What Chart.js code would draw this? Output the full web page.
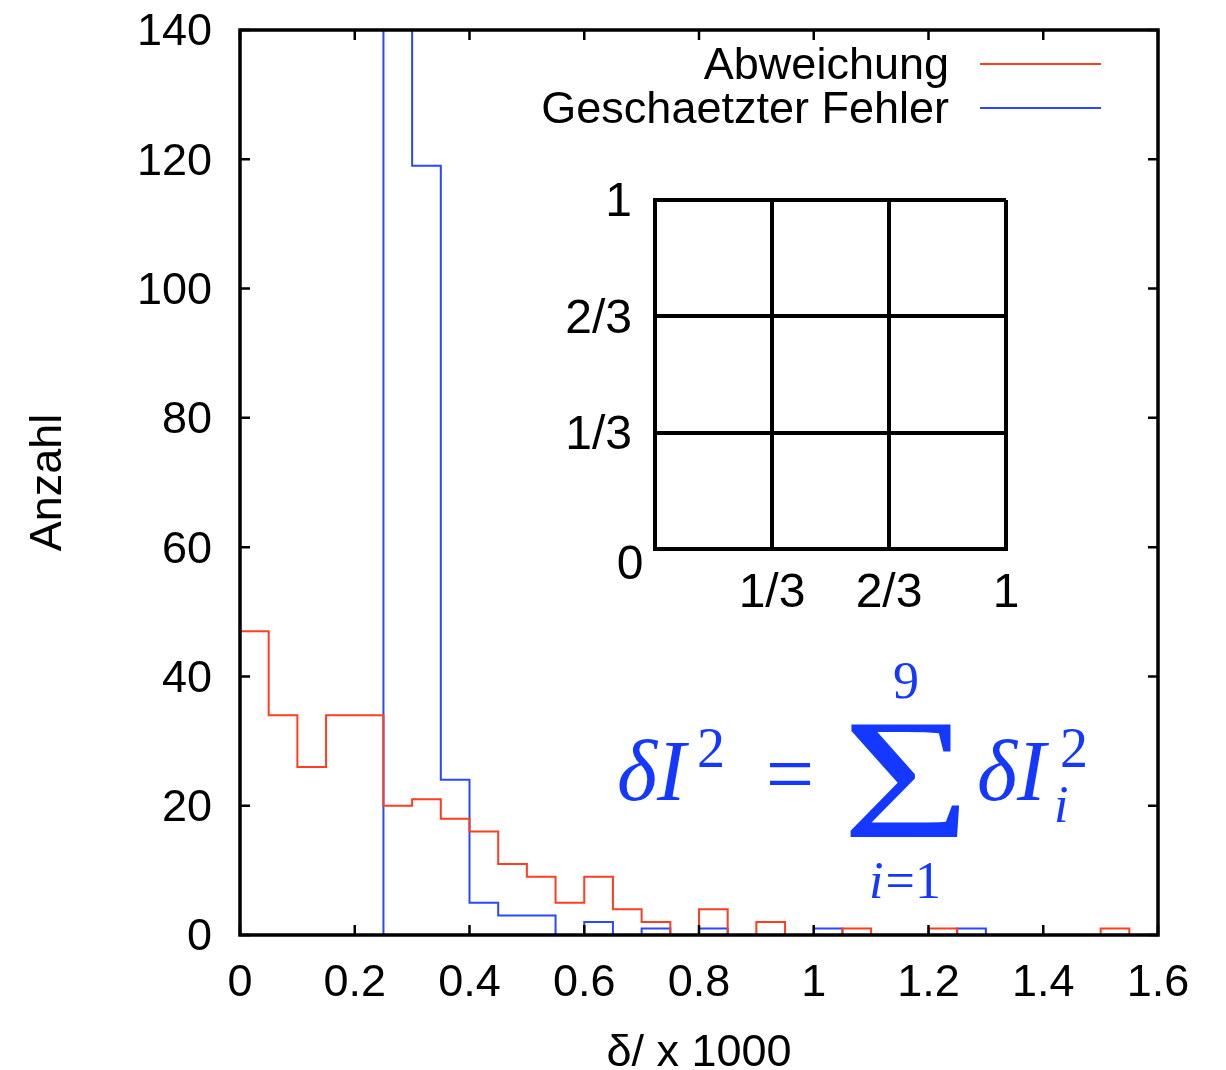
<!DOCTYPE html>
<html>
<head>
<meta charset="utf-8">
<title>Abweichung / Geschaetzter Fehler</title>
<script src="https://cdn.jsdelivr.net/npm/chart.js@4.4.1/dist/chart.umd.min.js"></script>
<style>
  html, body { margin: 0; padding: 0; background: #fff; }
  #wrap { position: relative; width: 1226px; height: 1070px; }
  #main { position: absolute; left: 0; top: 0; }
  #inset { position: absolute; left: 540px; top: 170px; }
</style>
</head>
<body>
<div id="wrap">
  <canvas id="main" width="1226" height="1070"></canvas>
  <canvas id="inset" width="490" height="450"></canvas>
</div>
<script>
// histogram bin edges (bin width 0.05), last entry closes the final bin
const binEdges = [0, 0.05, 0.1, 0.15, 0.2, 0.25, 0.3, 0.35, 0.4, 0.45, 0.5, 0.55,
  0.6, 0.65, 0.7, 0.75, 0.8, 0.85, 0.9, 0.95, 1.0, 1.05, 1.1, 1.15, 1.2, 1.25,
  1.3, 1.35, 1.4, 1.45, 1.5, 1.55, 1.6];

// counts per bin
const abweichung = [47, 34, 26, 34, 34, 20, 21, 18, 16, 11, 9, 5, 9, 4, 2, 0,
  4, 0, 2, 0, 0, 1, 0, 0, 1, 0, 0, 0, 0, 0, 1, 0];
const geschaetzterFehler = [0, 0, 0, 0, 0, 210, 119, 24, 5, 3, 3, 0, 2, 0, 1, 0,
  1, 0, 0, 0, 1, 0, 0, 0, 0, 1, 0, 0, 0, 0, 0, 0];

const xRange = [0, 1.6];
const yRange = [0, 140];
const xStep = 0.2;
const yStep = 20;

// inset: 3x3 subdivision of the unit square
const insetTicks = [0, 1/3, 2/3, 1];
const insetLabels = ['0', '1/3', '2/3', '1'];

const SANS = '"Liberation Sans", Arial, Helvetica, sans-serif';
const SERIF = '"Liberation Serif", "Times New Roman", serif';
const RED = '#ff3d20';
const BLUE = '#2a48ff';
const MATH_BLUE = '#1438ff';

// one point per left bin edge; the closing edge repeats the last count
function toSteps(counts) {
  return binEdges.map((x, i) => ({ x: x, y: counts[Math.min(i, counts.length - 1)] }));
}

// gnuplot-like frame with ticks pointing inwards on all four sides
const framePlugin = {
  id: 'frame',
  afterDatasetsDraw(chart) {
    const { ctx, chartArea: a, scales } = chart;
    const len = 10;
    ctx.save();
    ctx.strokeStyle = '#000';
    ctx.lineWidth = 2.5;
    ctx.beginPath();
    scales.x.ticks.forEach(t => {
      const px = scales.x.getPixelForValue(t.value);
      ctx.moveTo(px, a.bottom); ctx.lineTo(px, a.bottom - len);
      ctx.moveTo(px, a.top); ctx.lineTo(px, a.top + len);
    });
    scales.y.ticks.forEach(t => {
      const py = scales.y.getPixelForValue(t.value);
      ctx.moveTo(a.left, py); ctx.lineTo(a.left + len, py);
      ctx.moveTo(a.right, py); ctx.lineTo(a.right - len, py);
    });
    ctx.stroke();
    ctx.lineWidth = 3.5;
    ctx.strokeRect(a.left, a.top, a.right - a.left, a.bottom - a.top);
    ctx.restore();
  }
};

// key in the upper right corner: text first, sample line after it
const keyPlugin = {
  id: 'key',
  afterDraw(chart) {
    const { ctx, chartArea: a } = chart;
    ctx.save();
    ctx.font = '45px ' + SANS;
    ctx.textAlign = 'right';
    ctx.textBaseline = 'middle';
    chart.data.datasets.forEach((ds, i) => {
      const y = a.top + 34 + i * 44;
      ctx.fillStyle = '#000';
      ctx.fillText(ds.label, a.right - 209, y + 3);
      ctx.strokeStyle = ds.borderColor;
      ctx.lineWidth = 2;
      ctx.beginPath();
      ctx.moveTo(a.right - 178, y);
      ctx.lineTo(a.right - 57, y);
      ctx.stroke();
    });
    ctx.restore();
  }
};

// error propagation formula under the inset
const formulaPlugin = {
  id: 'formula',
  afterDraw(chart) {
    const ctx = chart.ctx;
    const it = s => 'italic ' + s + 'px ' + SERIF;
    const up = s => s + 'px ' + SERIF;
    ctx.save();
    ctx.fillStyle = MATH_BLUE;
    ctx.textBaseline = 'alphabetic';

    ctx.textAlign = 'left';
    ctx.font = it(86);
    ctx.fillText('\u03B4I', 617, 800);
    ctx.font = up(56);
    ctx.fillText('2', 697, 767);

    ctx.textAlign = 'center';
    ctx.font = up(86);
    ctx.fillText('=', 790, 803);

    // big sigma, stretched a little sideways
    ctx.save();
    ctx.translate(906, 837);
    ctx.scale(1.28, 1);
    ctx.font = up(172);
    ctx.fillText('\u03A3', 0, 0);
    ctx.restore();

    ctx.font = up(52);
    ctx.fillText('9', 906, 698);

    // lower limit i=1
    ctx.textAlign = 'left';
    ctx.font = it(52);
    const wi = ctx.measureText('i').width;
    ctx.font = up(52);
    const wr = ctx.measureText('=1').width;
    const x0 = 904 - (wi + wr) / 2;
    ctx.font = it(52);
    ctx.fillText('i', x0, 898);
    ctx.font = up(52);
    ctx.fillText('=1', x0 + wi + 2, 898);

    ctx.font = it(86);
    ctx.fillText('\u03B4I', 977, 800);
    ctx.font = up(56);
    ctx.fillText('2', 1060, 767);
    ctx.font = it(52);
    ctx.fillText('i', 1054, 822);
    ctx.restore();
  }
};

new Chart(document.getElementById('main'), {
  type: 'line',
  data: {
    datasets: [
      {
        label: 'Abweichung',
        data: toSteps(abweichung),
        borderColor: RED,
        borderWidth: 2,
        stepped: true,
        pointRadius: 0,
        fill: false
      },
      {
        label: 'Geschaetzter Fehler',
        data: toSteps(geschaetzterFehler),
        borderColor: BLUE,
        borderWidth: 2,
        stepped: true,
        pointRadius: 0,
        fill: false
      }
    ]
  },
  options: {
    responsive: false,
    animation: false,
    layout: { padding: { top: 30, right: 68, left: 0, bottom: 0 } },
    plugins: {
      legend: { display: false },
      tooltip: { enabled: false }
    },
    scales: {
      x: {
        type: 'linear',
        min: xRange[0],
        max: xRange[1],
        afterFit: s => { s.height = 135; },
        grid: { display: false, drawTicks: false },
        border: { display: false },
        ticks: {
          stepSize: xStep,
          padding: 22,
          maxRotation: 0,
          color: '#000',
          font: { family: SANS, size: 45 },
          callback: v => String(+v.toFixed(1))
        },
        title: {
          display: true,
          text: '\u03B4/ x 1000',
          color: '#000',
          font: { family: SANS, size: 45, lineHeight: 0.75 },
          padding: 0
        }
      },
      y: {
        min: yRange[0],
        max: yRange[1],
        afterFit: s => { s.width = 240; },
        // gap to the labels comes from an invisible tick mark, not from
        // ticks.padding, so the plot top is not pushed down
        grid: { display: false, drawTicks: true, tickLength: 28 },
        border: { display: false },
        ticks: {
          stepSize: yStep,
          padding: 0,
          labelOffset: 3,
          color: '#000',
          font: { family: SANS, size: 45 }
        },
        title: {
          display: true,
          text: 'Anzahl',
          color: '#000',
          font: { family: SANS, size: 45 },
          padding: { top: 22, bottom: 0 }
        }
      }
    }
  },
  plugins: [framePlugin, keyPlugin, formulaPlugin]
});

// corner "0" shared by both inset axes
const insetOriginPlugin = {
  id: 'insetOrigin',
  afterDraw(chart) {
    const { ctx, scales } = chart;
    ctx.save();
    ctx.font = '48px ' + SANS;
    ctx.fillStyle = '#000';
    ctx.textAlign = 'center';
    ctx.textBaseline = 'middle';
    ctx.fillText(insetLabels[0], scales.x.getPixelForValue(insetTicks[0]) - 25, scales.y.getPixelForValue(insetTicks[0]) + 17);
    ctx.restore();
  }
};

const insetAxis = (size, gap, shift) => ({
  type: 'linear',
  min: 0,
  max: 1,
  afterBuildTicks: s => { s.ticks = insetTicks.map(v => ({ value: v })); },
  afterFit: s => { if (s.isHorizontal()) s.height = size; else s.width = size; },
  grid: { color: '#000', lineWidth: 4, drawTicks: true, tickLength: gap, tickColor: 'rgba(0,0,0,0)' },
  border: { display: true, color: '#000', width: 4 },
  ticks: {
    autoSkip: false,
    maxRotation: 0,
    padding: 0,
    labelOffset: shift,
    color: '#000',
    font: { family: SANS, size: 48 },
    callback: (v, i) => (i === 0 ? '' : insetLabels[i])
  }
});

new Chart(document.getElementById('inset'), {
  type: 'scatter',
  data: { datasets: [] },
  options: {
    responsive: false,
    animation: false,
    layout: { padding: { top: 30, right: 24, left: 0, bottom: 0 } },
    plugins: {
      legend: { display: false },
      tooltip: { enabled: false }
    },
    scales: {
      x: insetAxis(71, 16, 0),
      y: insetAxis(115, 23, 3)
    }
  },
  plugins: [insetOriginPlugin]
});
</script>
</body>
</html>
